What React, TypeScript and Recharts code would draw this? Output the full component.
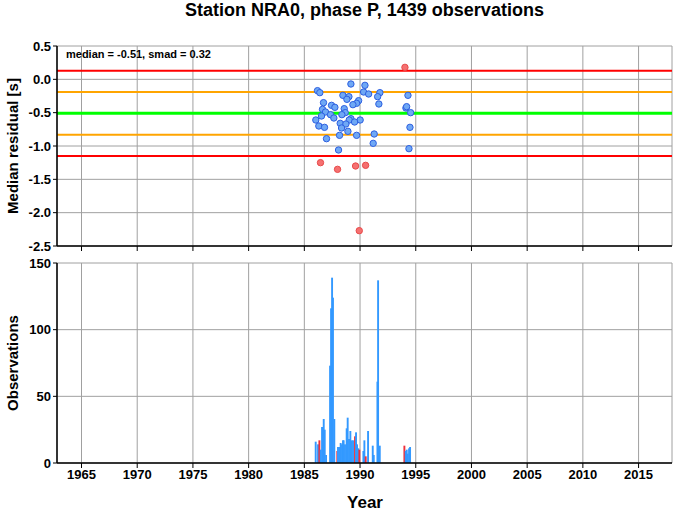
import { ComposedChart, Scatter, Bar, Cell, XAxis, YAxis, CartesianGrid, ReferenceLine } from "recharts";

// x axis (years)
const yearTicks = [1965, 1970, 1975, 1980, 1985, 1990, 1995, 2000, 2005, 2010, 2015];
const yearDomain = [1962.8, 2018];

// top panel: median residual per bin
const residualTicks = [-2.5, -2.0, -1.5, -1.0, -0.5, 0.0, 0.5];
const median = -0.51;
const smad = 0.32;

const normalPoints = [
  { x: 1989.18, y: -0.07 }, { x: 1990.44, y: -0.09 }, { x: 1986.18, y: -0.17 }, { x: 1986.39, y: -0.2 },
  { x: 1990.32, y: -0.19 }, { x: 1990.77, y: -0.22 }, { x: 1991.78, y: -0.2 }, { x: 1991.58, y: -0.26 },
  { x: 1994.3, y: -0.24 }, { x: 1988.46, y: -0.24 }, { x: 1989.0, y: -0.26 }, { x: 1988.82, y: -0.3 },
  { x: 1989.87, y: -0.32 }, { x: 1989.69, y: -0.36 }, { x: 1989.36, y: -0.38 }, { x: 1986.72, y: -0.35 },
  { x: 1991.69, y: -0.37 }, { x: 1987.44, y: -0.39 }, { x: 1987.74, y: -0.42 }, { x: 1986.63, y: -0.45 },
  { x: 1986.9, y: -0.49 }, { x: 1988.58, y: -0.44 }, { x: 1994.12, y: -0.43 }, { x: 1994.18, y: -0.41 },
  { x: 1994.54, y: -0.5 }, { x: 1988.67, y: -0.5 }, { x: 1988.37, y: -0.53 }, { x: 1987.35, y: -0.53 },
  { x: 1986.54, y: -0.55 }, { x: 1987.65, y: -0.58 }, { x: 1986.03, y: -0.61 }, { x: 1989.18, y: -0.59 },
  { x: 1989.03, y: -0.61 }, { x: 1990.01, y: -0.61 }, { x: 1989.51, y: -0.64 }, { x: 1988.22, y: -0.66 },
  { x: 1988.73, y: -0.67 }, { x: 1986.3, y: -0.7 }, { x: 1986.81, y: -0.72 }, { x: 1988.34, y: -0.73 },
  { x: 1988.91, y: -0.78 }, { x: 1994.48, y: -0.72 }, { x: 1991.27, y: -0.82 }, { x: 1988.16, y: -0.84 },
  { x: 1989.69, y: -0.84 }, { x: 1986.99, y: -0.89 }, { x: 1991.18, y: -0.96 }, { x: 1994.39, y: -1.04 },
  { x: 1988.07, y: -1.06 },
];

const outlierPoints = [
  { x: 1994.03, y: 0.18 }, { x: 1986.45, y: -1.25 }, { x: 1987.98, y: -1.35 },
  { x: 1989.6, y: -1.3 }, { x: 1990.5, y: -1.29 }, { x: 1989.93, y: -2.27 },
];

// bottom panel: observations per bin
const countTicks = [0, 50, 100, 150];
const binYears = [
  1986.02, 1986.23, 1986.35, 1986.47, 1986.59, 1986.74, 1986.83, 1986.95, 1987.31, 1987.4,
  1987.49, 1987.57, 1987.69, 1987.96, 1988.02, 1988.14, 1988.26, 1988.38, 1988.47, 1988.53,
  1988.65, 1988.8, 1988.89, 1989.01, 1989.13, 1989.25, 1989.37, 1989.55, 1989.64, 1989.73,
  1989.85, 1989.94, 1990.3, 1990.39, 1990.51, 1990.72, 1991.14, 1991.23, 1991.56, 1991.62,
  1991.77, 1993.98, 1994.1, 1994.19, 1994.28, 1994.4, 1994.49,
];
const binCounts = [
  16, 14, 17, 10, 27, 33, 25, 6, 73, 116,
  139, 124, 33, 9, 12, 12, 15, 14, 17, 17,
  14, 26, 34, 18, 24, 17, 17, 20, 23, 14,
  11, 10, 9, 17, 5, 24, 13, 6, 61, 137,
  13, 13, 9, 10, 7, 11, 12,
];
const binOutlier = [
  0, 0, 1, 0, 0, 0, 0, 0, 0, 0,
  0, 0, 0, 1, 0, 0, 0, 0, 0, 0,
  0, 0, 0, 0, 0, 0, 0, 1, 0, 0,
  0, 1, 0, 0, 1, 0, 0, 0, 0, 0,
  0, 1, 0, 0, 0, 0, 0,
];

const bins = binYears.map((x, i) => ({ x, n: binCounts[i], out: binOutlier[i] }));

const FONT = "'Liberation Sans', Arial, Helvetica, sans-serif";
const tickStyle = { fontSize: 13, fontWeight: 700, fill: "#000", fontFamily: FONT };
const GRID = "#a0a0a0";
const BAR_W = 1.9;

const dot = (fill: string, stroke: string) => (props: any) => (
  <circle cx={props.cx} cy={props.cy} r={3.2} fill={fill} stroke={stroke} strokeWidth={1} />
);

// recharts shrinks bars to the smallest gap between x values, so widen them around their centre
const barShape = (props: any) => (
  <rect
    x={props.x + props.width / 2 - BAR_W / 2}
    y={props.y}
    width={BAR_W}
    height={Math.max(0, props.height)}
    fill={props.fill}
  />
);

const rotLabel = (text: string, cx: number, cy: number) => (
  <div
    style={{
      position: "absolute",
      left: cx,
      top: cy,
      transform: "translate(-50%, -50%) rotate(-90deg)",
      whiteSpace: "nowrap",
      fontFamily: FONT,
      fontWeight: 700,
      fontSize: 15,
    }}
  >
    {text}
  </div>
);

export default function App() {
  return (
    <div style={{ position: "absolute", left: 0, top: 0, width: 678, height: 511, background: "#fff" }}>
      <div
        style={{
          position: "absolute",
          left: 57,
          width: 615,
          top: 0,
          textAlign: "center",
          fontFamily: FONT,
          fontWeight: 700,
          fontSize: 18,
        }}
      >
        Station NRA0, phase P, 1439 observations
      </div>

      <div style={{ position: "absolute", left: 0, top: 0 }}>
        <ComposedChart width={678} height={260} margin={{ top: 46, right: 6, bottom: 0, left: 17 }}>
          <CartesianGrid stroke={GRID} strokeWidth={1} />
          <XAxis
            dataKey="x"
            type="number"
            domain={yearDomain}
            ticks={yearTicks}
            tickFormatter={() => ""}
            tickSize={5}
            height={14}
            allowDataOverflow
            axisLine={{ stroke: "#000", strokeWidth: 1.5 }}
            tickLine={{ stroke: "#000" }}
          />
          <XAxis xAxisId="top" orientation="top" type="number" domain={yearDomain} height={0} tick={false} tickLine={false} axisLine={{ stroke: "#000", strokeWidth: 1.5 }} />
          <YAxis
            type="number"
            domain={[-2.5, 0.5]}
            ticks={residualTicks}
            tickFormatter={(v: number) => v.toFixed(1)}
            tick={tickStyle}
            tickSize={4}
            width={40}
            allowDataOverflow
            axisLine={{ stroke: "#000", strokeWidth: 1.5 }}
            tickLine={{ stroke: "#000" }}
          />
          <YAxis yAxisId="r" orientation="right" domain={[-2.5, 0.5]} width={0} tick={false} tickLine={false} axisLine={{ stroke: "#000", strokeWidth: 1.5 }} />
          <ReferenceLine y={median + 2 * smad} stroke="#ff0000" strokeWidth={2} />
          <ReferenceLine y={median - 2 * smad} stroke="#ff0000" strokeWidth={2} />
          <ReferenceLine y={median + smad} stroke="#ffa500" strokeWidth={2} />
          <ReferenceLine y={median - smad} stroke="#ffa500" strokeWidth={2} />
          <ReferenceLine y={median} stroke="#00ff00" strokeWidth={3} />
          <Scatter data={normalPoints} dataKey="y" shape={dot("#6fa8f5", "#2d5fe0")} isAnimationActive={false} />
          <Scatter data={outlierPoints} dataKey="y" shape={dot("#f57070", "#e84b4b")} isAnimationActive={false} />
        </ComposedChart>
      </div>

      <div
        style={{
          position: "absolute",
          left: 66,
          top: 48,
          fontFamily: FONT,
          fontWeight: 700,
          fontSize: 11,
        }}
      >
        median = -0.51, smad = 0.32
      </div>

      <div style={{ position: "absolute", left: 0, top: 250 }}>
        <ComposedChart width={678} height={261} data={bins} margin={{ top: 13, right: 6, bottom: 18, left: 17 }}>
          <CartesianGrid stroke={GRID} strokeWidth={1} />
          <XAxis
            dataKey="x"
            type="number"
            domain={yearDomain}
            ticks={yearTicks}
            tick={tickStyle}
            tickSize={5}
            height={30}
            allowDataOverflow
            axisLine={{ stroke: "#000", strokeWidth: 1.5 }}
            tickLine={{ stroke: "#000" }}
          />
          <XAxis xAxisId="top" orientation="top" type="number" domain={yearDomain} height={0} tick={false} tickLine={false} axisLine={{ stroke: "#000", strokeWidth: 1.5 }} />
          <YAxis
            type="number"
            domain={[0, 150]}
            ticks={countTicks}
            tick={tickStyle}
            tickSize={4}
            width={40}
            allowDataOverflow
            axisLine={{ stroke: "#000", strokeWidth: 1.5 }}
            tickLine={{ stroke: "#000" }}
          />
          <YAxis yAxisId="r" orientation="right" domain={[0, 150]} width={0} tick={false} tickLine={false} axisLine={{ stroke: "#000", strokeWidth: 1.5 }} />
          <Bar dataKey="n" shape={barShape} isAnimationActive={false}>
            {bins.map((b, i) => (
              <Cell key={i} fill={b.out ? "#ee2f3a" : "#3399ff"} />
            ))}
          </Bar>
        </ComposedChart>
      </div>

      {rotLabel("Median residual [s]", 12, 146)}
      {rotLabel("Observations", 12, 363)}
      <div
        style={{
          position: "absolute",
          left: 365,
          top: 503,
          transform: "translate(-50%, -50%)",
          fontFamily: FONT,
          fontWeight: 700,
          fontSize: 17,
        }}
      >
        Year
      </div>
    </div>
  );
}
